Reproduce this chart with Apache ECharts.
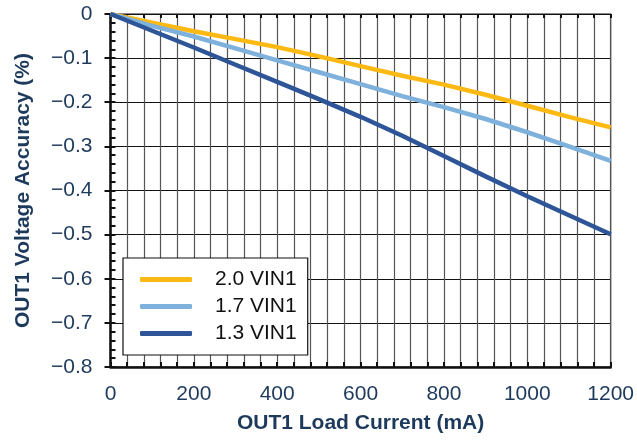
<!DOCTYPE html>
<html>
<head>
<meta charset="utf-8">
<script src="https://cdn.jsdelivr.net/npm/echarts@6/dist/echarts.min.js"></script>
<style>html,body{margin:0;padding:0;background:#fff;}#c{width:637px;height:441px;}</style>
</head>
<body>
<div id="c"></div>
<script>
var loadCurrent = [0, 100, 200, 300, 400, 500, 600, 700, 800, 900, 1000, 1100, 1200];
var vin20 = [0, -0.020, -0.039, -0.057, -0.075, -0.096, -0.118, -0.140, -0.160, -0.183, -0.208, -0.233, -0.257];
var vin17 = [0, -0.027, -0.051, -0.078, -0.105, -0.132, -0.159, -0.186, -0.211, -0.238, -0.268, -0.300, -0.333];
var vin13 = [0, -0.038, -0.076, -0.115, -0.154, -0.193, -0.233, -0.276, -0.322, -0.368, -0.413, -0.456, -0.499];
var seriesNames = ['2.0 VIN1', '1.7 VIN1', '1.3 VIN1'];
var xTickLabels = [0, 200, 400, 600, 800, 1000, 1200];
var yTickLabels = ['0', '\u22120.1', '\u22120.2', '\u22120.3', '\u22120.4', '\u22120.5', '\u22120.6', '\u22120.7', '\u22120.8'];

function pairs(xs, ys) { return xs.map(function (x, i) { return [x, ys[i]]; }); }

var txt = '#1d3a5c';
var font = 'Liberation Sans, Arial, sans-serif';
var chart = echarts.init(document.getElementById('c'), null, { renderer: 'canvas' });
chart.setOption({
  animation: false,
  backgroundColor: '#fff',
  grid: { left: 110.5, right: 26, top: 14, bottom: 74, show: true, borderColor: '#111', borderWidth: 1.2 },
  legend: {
    orient: 'vertical', left: 123, top: 258,
    backgroundColor: '#fff', borderColor: '#111', borderWidth: 1.2,
    padding: [11, 11, 11, 17], itemGap: 6,
    itemWidth: 52, itemHeight: 5, icon: 'roundRect',
    textStyle: { fontFamily: font, fontSize: 21, color: '#111', padding: [0, 0, 0, 18] },
    data: seriesNames
  },
  xAxis: [{
    type: 'value', min: 0, max: 1200, interval: 40, position: 'bottom',
    name: 'OUT1 Load Current (mA)', nameLocation: 'middle', nameGap: 46,
    nameTextStyle: { fontFamily: font, fontSize: 21, fontWeight: 'bold', color: txt },
    axisLine: { onZero: false, lineStyle: { color: '#111', width: 2.5 } },
    axisTick: { inside: true, length: 5, lineStyle: { color: '#111', width: 2 } },
    axisLabel: { margin: 17, fontFamily: font, fontSize: 21, color: txt,
      formatter: function (v) { return xTickLabels.indexOf(v) >= 0 ? String(v) : ''; } },
    splitLine: { show: true, lineStyle: { color: '#555', width: 1.2 } }
  }, {
    type: 'value', min: 0, max: 1200, interval: 40, position: 'bottom',
    axisLine: { show: false }, axisLabel: { show: false }, splitLine: { show: false },
    axisTick: { show: true, inside: false, length: 4, lineStyle: { color: '#111', width: 2 } }
  }],
  yAxis: [{
    type: 'value', min: -0.8, max: 0, interval: 0.1, position: 'left',
    name: 'OUT1 Voltage Accuracy (%)', nameLocation: 'middle', nameGap: 77,
    nameTextStyle: { fontFamily: font, fontSize: 21, fontWeight: 'bold', color: txt },
    axisLine: { onZero: false, lineStyle: { color: '#111', width: 2.5 } },
    axisTick: { inside: false, length: 6, lineStyle: { color: '#111', width: 2 } },
    axisLabel: { margin: 18, fontFamily: font, fontSize: 21, color: txt,
      formatter: function (v) { var i = Math.round(-v * 10); return yTickLabels[i]; } },
    splitLine: { show: true, lineStyle: { color: '#111', width: 1.2 } }
  }, {
    type: 'value', min: -0.8, max: 0, interval: 0.02, position: 'left',
    axisLine: { show: false }, axisLabel: { show: false }, splitLine: { show: false },
    axisTick: { show: true, inside: true, length: 5, lineStyle: { color: '#111', width: 2 } }
  }],
  series: [
    { name: seriesNames[0], type: 'line', showSymbol: false, data: pairs(loadCurrent, vin20), lineStyle: { color: '#FDB913', width: 4.5 }, itemStyle: { color: '#FDB913' } },
    { name: seriesNames[1], type: 'line', showSymbol: false, data: pairs(loadCurrent, vin17), lineStyle: { color: '#7EB1DC', width: 4.5 }, itemStyle: { color: '#7EB1DC' } },
    { name: seriesNames[2], type: 'line', showSymbol: false, data: pairs(loadCurrent, vin13), lineStyle: { color: '#2E5597', width: 4.5 }, itemStyle: { color: '#2E5597' } }
  ]
});
</script>
</body>
</html>
